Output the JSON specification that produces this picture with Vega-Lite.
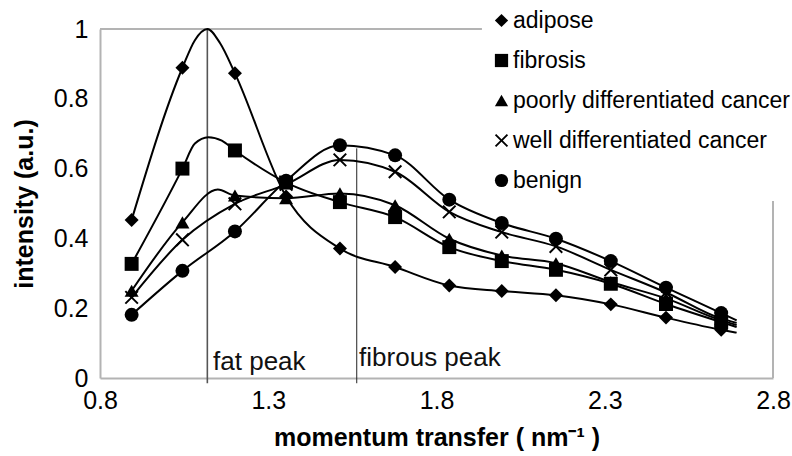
{
  "$schema": "https://vega.github.io/schema/vega-lite/v6.json",
  "width": 673,
  "height": 349,
  "autosize": "none",
  "padding": {"left": 100, "top": 29, "right": 19, "bottom": 78},
  "background": "white",
  "config": {
    "view": {"stroke": null},
    "font": "Liberation Sans",
    "axis": {
      "domainColor": "#b3b3b3",
      "domainWidth": 2,
      "ticks": false,
      "grid": false,
      "labelFlush": false,
      "labelFont": "Liberation Sans",
      "labelFontSize": 25,
      "labelColor": "black",
      "titleFont": "Liberation Sans",
      "titleFontSize": 25,
      "titleFontWeight": "bold",
      "titleColor": "black"
    }
  },
  "datasets": {
    "curves": [
      {"series": "adipose", "x": 0.894, "y": 0.453, "m": 1},
      {"series": "adipose", "x": 1.045, "y": 0.889, "m": 1},
      {"series": "adipose", "x": 1.082, "y": 0.968, "m": 0},
      {"series": "adipose", "x": 1.119, "y": 1.0, "m": 0},
      {"series": "adipose", "x": 1.157, "y": 0.959, "m": 0},
      {"series": "adipose", "x": 1.201, "y": 0.873, "m": 1},
      {"series": "adipose", "x": 1.353, "y": 0.52, "m": 1},
      {"series": "adipose", "x": 1.513, "y": 0.371, "m": 1},
      {"series": "adipose", "x": 1.677, "y": 0.318, "m": 1},
      {"series": "adipose", "x": 1.838, "y": 0.265, "m": 1},
      {"series": "adipose", "x": 1.994, "y": 0.249, "m": 1},
      {"series": "adipose", "x": 2.155, "y": 0.237, "m": 1},
      {"series": "adipose", "x": 2.318, "y": 0.211, "m": 1},
      {"series": "adipose", "x": 2.482, "y": 0.173, "m": 1},
      {"series": "adipose", "x": 2.646, "y": 0.138, "m": 1},
      {"series": "adipose", "x": 2.692, "y": 0.13, "m": 0},

      {"series": "fibrosis", "x": 0.894, "y": 0.327, "m": 1},
      {"series": "fibrosis", "x": 1.045, "y": 0.6, "m": 1},
      {"series": "fibrosis", "x": 1.082, "y": 0.672, "m": 0},
      {"series": "fibrosis", "x": 1.122, "y": 0.69, "m": 0},
      {"series": "fibrosis", "x": 1.162, "y": 0.68, "m": 0},
      {"series": "fibrosis", "x": 1.201, "y": 0.652, "m": 1},
      {"series": "fibrosis", "x": 1.353, "y": 0.56, "m": 1},
      {"series": "fibrosis", "x": 1.513, "y": 0.504, "m": 1},
      {"series": "fibrosis", "x": 1.677, "y": 0.461, "m": 1},
      {"series": "fibrosis", "x": 1.838, "y": 0.375, "m": 1},
      {"series": "fibrosis", "x": 1.994, "y": 0.335, "m": 1},
      {"series": "fibrosis", "x": 2.155, "y": 0.31, "m": 1},
      {"series": "fibrosis", "x": 2.318, "y": 0.27, "m": 1},
      {"series": "fibrosis", "x": 2.482, "y": 0.212, "m": 1},
      {"series": "fibrosis", "x": 2.646, "y": 0.16, "m": 1},
      {"series": "fibrosis", "x": 2.692, "y": 0.146, "m": 0},

      {"series": "poorly differentiated cancer", "x": 0.894, "y": 0.25, "m": 1},
      {"series": "poorly differentiated cancer", "x": 1.045, "y": 0.446, "m": 1},
      {"series": "poorly differentiated cancer", "x": 1.15, "y": 0.54, "m": 0},
      {"series": "poorly differentiated cancer", "x": 1.201, "y": 0.523, "m": 1},
      {"series": "poorly differentiated cancer", "x": 1.353, "y": 0.515, "m": 1},
      {"series": "poorly differentiated cancer", "x": 1.513, "y": 0.529, "m": 1},
      {"series": "poorly differentiated cancer", "x": 1.677, "y": 0.495, "m": 1},
      {"series": "poorly differentiated cancer", "x": 1.838, "y": 0.399, "m": 1},
      {"series": "poorly differentiated cancer", "x": 1.994, "y": 0.351, "m": 1},
      {"series": "poorly differentiated cancer", "x": 2.155, "y": 0.329, "m": 1},
      {"series": "poorly differentiated cancer", "x": 2.318, "y": 0.275, "m": 1},
      {"series": "poorly differentiated cancer", "x": 2.482, "y": 0.228, "m": 1},
      {"series": "poorly differentiated cancer", "x": 2.646, "y": 0.165, "m": 1},
      {"series": "poorly differentiated cancer", "x": 2.692, "y": 0.152, "m": 0},

      {"series": "well differentiated cancer", "x": 0.894, "y": 0.231, "m": 1},
      {"series": "well differentiated cancer", "x": 1.045, "y": 0.396, "m": 1},
      {"series": "well differentiated cancer", "x": 1.201, "y": 0.499, "m": 1},
      {"series": "well differentiated cancer", "x": 1.353, "y": 0.555, "m": 1},
      {"series": "well differentiated cancer", "x": 1.513, "y": 0.625, "m": 1},
      {"series": "well differentiated cancer", "x": 1.677, "y": 0.591, "m": 1},
      {"series": "well differentiated cancer", "x": 1.838, "y": 0.476, "m": 1},
      {"series": "well differentiated cancer", "x": 1.994, "y": 0.418, "m": 1},
      {"series": "well differentiated cancer", "x": 2.155, "y": 0.377, "m": 1},
      {"series": "well differentiated cancer", "x": 2.318, "y": 0.31, "m": 1},
      {"series": "well differentiated cancer", "x": 2.482, "y": 0.245, "m": 1},
      {"series": "well differentiated cancer", "x": 2.646, "y": 0.17, "m": 1},
      {"series": "well differentiated cancer", "x": 2.692, "y": 0.158, "m": 0},

      {"series": "benign", "x": 0.894, "y": 0.181, "m": 1},
      {"series": "benign", "x": 1.045, "y": 0.307, "m": 1},
      {"series": "benign", "x": 1.201, "y": 0.42, "m": 1},
      {"series": "benign", "x": 1.353, "y": 0.565, "m": 1},
      {"series": "benign", "x": 1.513, "y": 0.667, "m": 1},
      {"series": "benign", "x": 1.677, "y": 0.638, "m": 1},
      {"series": "benign", "x": 1.838, "y": 0.511, "m": 1},
      {"series": "benign", "x": 1.994, "y": 0.444, "m": 1},
      {"series": "benign", "x": 2.155, "y": 0.399, "m": 1},
      {"series": "benign", "x": 2.318, "y": 0.335, "m": 1},
      {"series": "benign", "x": 2.482, "y": 0.259, "m": 1},
      {"series": "benign", "x": 2.646, "y": 0.186, "m": 1},
      {"series": "benign", "x": 2.692, "y": 0.165, "m": 0}
    ],
    "one": [{}]
  },
  "layer": [
    {
      "data": {"name": "one"},
      "mark": {"type": "rule", "color": "#b3b3b3", "strokeWidth": 2},
      "encoding": {
        "x": {"datum": 0.8, "type": "quantitative", "scale": {"domain": [0.8, 2.8], "nice": false, "zero": false}},
        "x2": {"datum": 1.935},
        "y": {"datum": 1, "type": "quantitative", "scale": {"domain": [0, 1], "nice": false}}
      }
    },
    {
      "data": {"name": "one"},
      "mark": {"type": "rule", "color": "#b3b3b3", "strokeWidth": 2},
      "encoding": {
        "x": {"datum": 2.8, "type": "quantitative"},
        "y": {"datum": 0, "type": "quantitative"},
        "y2": {"datum": 0.524}
      }
    },
    {
      "data": {"name": "one"},
      "mark": {"type": "rule", "color": "#555555", "strokeWidth": 1.6},
      "encoding": {
        "x": {"datum": 1.119, "type": "quantitative"},
        "y": {"datum": -0.015, "type": "quantitative"},
        "y2": {"datum": 1.0}
      }
    },
    {
      "data": {"name": "one"},
      "mark": {"type": "rule", "color": "#222222", "strokeWidth": 1},
      "encoding": {
        "x": {"datum": 1.563, "type": "quantitative"},
        "y": {"datum": -0.015, "type": "quantitative"},
        "y2": {"datum": 0.658}
      }
    },
    {
      "data": {"name": "one"},
      "mark": {"type": "text", "text": "fat peak", "fontSize": 26, "align": "left", "baseline": "alphabetic", "color": "#111111"},
      "encoding": {
        "x": {"datum": 1.136, "type": "quantitative"},
        "y": {"datum": 0.022, "type": "quantitative"}
      }
    },
    {
      "data": {"name": "one"},
      "mark": {"type": "text", "text": "fibrous peak", "fontSize": 26, "align": "left", "baseline": "alphabetic", "color": "#111111"},
      "encoding": {
        "x": {"datum": 1.57, "type": "quantitative"},
        "y": {"datum": 0.033, "type": "quantitative"}
      }
    },
    {
      "data": {"name": "curves"},
      "mark": {"type": "line", "interpolate": "monotone", "color": "black", "strokeWidth": 2},
      "encoding": {
        "x": {
          "field": "x", "type": "quantitative",
          "scale": {"domain": [0.8, 2.8], "nice": false, "zero": false},
          "axis": {"values": [0.8, 1.3, 1.8, 2.3, 2.8], "format": ".1f", "labelPadding": 10, "title": "momentum transfer ( nm⁻¹ )", "titlePadding": 12}
        },
        "y": {
          "field": "y", "type": "quantitative",
          "scale": {"domain": [0, 1], "nice": false},
          "axis": {"values": [0, 0.2, 0.4, 0.6, 0.8, 1], "format": ".1~f", "labelPadding": 12, "title": "intensity (a.u.)", "titlePadding": 16}
        },
        "detail": {"field": "series"},
        "order": {"field": "x"}
      }
    },
    {
      "data": {"name": "curves"},
      "transform": [{"filter": "datum.m == 1"}],
      "mark": {"type": "point", "filled": true, "color": "black", "opacity": 1, "size": 195},
      "encoding": {
        "x": {"field": "x", "type": "quantitative"},
        "y": {"field": "y", "type": "quantitative"},
        "shape": {
          "field": "series", "type": "nominal",
          "scale": {
            "domain": ["adipose", "fibrosis", "poorly differentiated cancer", "well differentiated cancer", "benign"],
            "range": ["diamond", "square", "triangle-up", "M-1,-0.8L-0.8,-1L0,-0.2L0.8,-1L1,-0.8L0.2,0L1,0.8L0.8,1L0,0.2L-0.8,1L-1,0.8L-0.2,0Z", "circle"]
          },
          "legend": {
            "title": null,
            "orient": "none",
            "legendX": 382,
            "legendY": -28,
            "padding": 8,
            "fillColor": "white",
            "labelFont": "Liberation Sans",
            "labelFontSize": 23,
            "labelColor": "black",
            "labelOffset": 0,
            "rowPadding": 16,
            "symbolSize": 175,
            "symbolFillColor": "black",
            "symbolStrokeWidth": 0,
            "labelLimit": 400
          }
        }
      }
    }
  ]
}
